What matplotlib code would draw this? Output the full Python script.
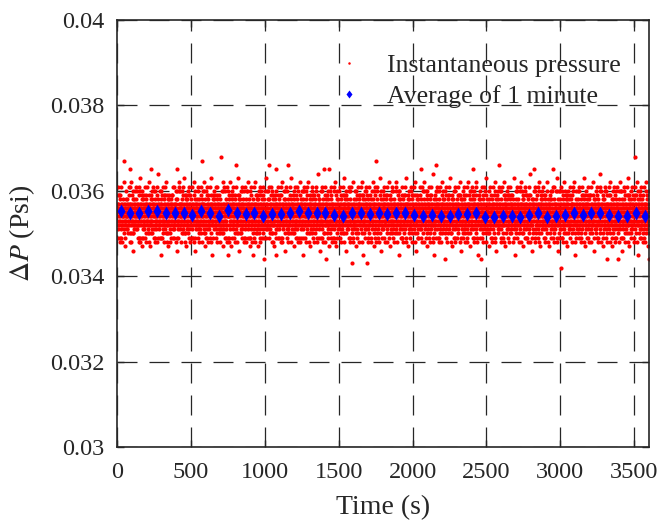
import numpy as np
import matplotlib
matplotlib.use("Agg")
import matplotlib.pyplot as plt

plt.rcParams["font.family"] = ["Liberation Serif", "DejaVu Serif"]
plt.rcParams["mathtext.fontset"] = "stix"

# Instantaneous pressure, one string per minute (1 sample/s); each letter is a
# pressure level: LEVEL_BASE + index_in_LEVEL_KEYS * LEVEL_STEP (Psi)
LEVEL_KEYS = "abcdefghijklmnopqrstuvwxyz+"
LEVEL_BASE = 0.0342
LEVEL_STEP = 0.0001

pressure_minutes = [
    "nmlokptjrh pnomlkrhgq rnmlopkjth nnmolkpgqm knmoljziup nopmlkhfqs",
    "mnolknpmjq jmnolkpitr kolmnpgtxi pnlmokguir lmnpoqkesi ilmnokpqjs",
    "olnmpkjqmn tlnmokjpsh onlmkpgrth nkolmpvghs pnomlkrhfq snmlopkjqh",
    "knmoljrhtp mkolnpqgir lnomktpjin omnlkgpuri fmnolkpiqr kxlmnpjqsi",
    "lmnpotkjsh nopmlkmgqs hmnoljkptr gnlmokpnqh wlnmokjpsh onlmkpdsqh",
    "pnomlkrhjt ilmnokpqgr mlkontpjri umnolkpgir mkolnpqfir lnomkqpjin",
    "gmnolkphqr rnmlopkjth nnmolkpjth lmonkpqgms nopxlkheqs hmnoljkpus",
    "tlnmokjpsm kolmnpgqsi pnlmokjtir nmlokpvgri ilmnokpqfr mlkonqpjsi",
    "mkolnptjhr onlmkpgrqh nkolmptjhn mnolknphgu rnmlopkeqh snmolkpjqm",
    "nopmlkhjts lnomkqpgin omnlkjptri olzmpkgqms kolmnpjusi pnlmokfqis",
    "hlmnokptjr hmnolgkpqr jnlmokpnth knmolgrivp onlmkpdrqh nkolmpqjms",
    "rnmlopkjth mlkonqpgri tmnolkpjir lmnpoqkgni lnomk+pjis omnlkfpusi",
    "kolmnpjtsh nnmolkpjqh lmonkptghs pnomdkrmgq hmnoljkpur fnlmokpsqh",
    "onlmkpjrth pnlmokgqir nmlokptjyi gmnolkpivr mlkonqperi qmnolkpjis",
    "lnomktpjhs nkolmpqghs mnolknphjt qlnmokgpsm snmolkpjuh lmonkpqfhs",
    "hmnoljkptr omnlkgpqdi olnmpkjthn mkolnpugir pnlmokjqir nmlokpqfsi",
    "mlkontpjrh gnlmokpsqh knmoljritp nopmlkhcqs nkolmpvjhn mnolkspmjq",
    "snmolkyjqh tmnolkpjir lmnpotkgsi ilmnokpqgr omnlkfpqri olnmpdjxhs",
    "pnlmokjthr lmonkpqjhn pnomlkrhgt rnmlopkguh jnlmokpsqm knmolesiqp",
    "nkolmptjhs nmlokpqjyi gmnolkpitr kolmnpgqni vmnolkpjir lmnpoqkfsi",
    "omnlkjptrh mnolknphjq tlnmokgpsh onlmkpgrum lmonkpqjhs pnomlkshdq",
    "jnlmokpsth olnmpkgqms mkolnptjir lnomkupgin nmlokpqfri jmnolkpiqs",
    "tmnolkpjhr knmolgriqp nopmlkmjts hmnolgkpwr mnolknphjq qlnmokepsh",
    "lmonkptjhs lmnpoqkgni ilmnxkptgr mlkonqpcri olnmpkjqhs mkolnpxfis",
    "nmlokptjrh qlnmokgpnh olnmpkjtms hmnolgkpur fnlmokpsqh ilmnokpqjs",
    "mnolknphjt mkolnpqgir knmoljritp mlkonvpgri qmnolkpeir snmlopkjqm",
    "olnmpkjths nopmlkhgqs lmnpotkjbi nnmolkpguh lmonkpqjms kolmnpfqsi",
    "knmoljrhtp ilmnokpqgr pnomlkrmjt pnlmokguir nmlokpqdri onlmkpjsqh",
    "lmnpotkjsb rnmlopkgqh jmnolkpitr nkolmpqghn mnolkspmju lnomkqpfis",
    "pnomlkrhjt kozmnpgqsi tlnmokjpnh omnlkgpvri olnmpkeqms hmnoljkpqs",
    "jmnolkphtr onlmkpgrqm mkolnptjir gnlmokpnuh knmolfriqp mlkonqpjsi",
    "tlnmokjpsh lnomkqpgin nopmlkmjts umnolkpgir lmnpoqkdsi snmolkpjqh",
    "mkolnptjhr hmnolgkpqr ilmnokptjr lmonkpvghn pnomlkrmfq pnlmokjqis",
    "nopmlkhjts mlkonqpgri rnmlopkjtm nmlokpugri emnolkpiqr nkolmpqjhn",
    "hlmnokptjr nnmolxpjqh kolmnpgtsi mnolkspmgq ulnmokjpsh omnlkfpqsi",
    "rnmlopkjth pnlmokgqir onlmkpjrtm olnmpkgwhn mkolnpqdir jnlmokpsqh",
    "yolmnpjtsh nkolmpqghs lnomktpjin knmolgriup nopmlkmjqs qmnolkpcis",
    "onlmkpjrth omnlkgpqri mmnoljkptr lmnpovkgni ilmnokpqfr lmonkpqjhs",
    "lnomktpjhs gnlmokpnqh mlkontpjri pnomlkrmgu rnmlopkeqh nmlokpqjsi",
    "hmnoljkptr qmnolkpgir nnmolkpjth gmnolkpiur kolmnpfqsi mnolkspmjq",
    "mlkontpjrh xmonkpqghs pnlmokjtir ulnmokgpnh onlmkpdrqm olnmpkjqhs",
    "cnmolkpjth nmlokpqgri nkolmptjms mkolnpvgir lnomkqpjin knmolfsiqp",
    "pnlmokjthr mnolknphgq omnlkjptri nopmlkmgus hmnolekpqr lmnpoqkjsi",
    "nkolmptjys olnmpkgqhs jnlmokpnth ilmnokpugr mlkonqpfri pnomlksmjq",
    "omnlkjptrh knmolgriqp tmnolkpjir rnmlopkgqm nnmolkpjvh dmnolkpiqs",
    "jnlmokpsth lmnpoqkgni lmonkptjms kolmnpgusi pnlmokfqir qlnmokjpsh",
    "tmnolkpjhr pnomlkrhgq nmlokptjri onlmkpgrwm nkolmpqehn mkolnpqjis",
    "lmonxptjhs gmnolkpiqr mnolknphjt lnomkupgis omnlkfpqri nopmlkmjqs",
    "nmlokptjrh onlmkpgrqh jmnolkpius mnolknpmgq pnlmokfqir nopmlkhjqs",
    "mnolksphjt lnxmkqpgin tlnmokjpsm olnmpkgvhs nkolmpqehs ilmnokpqjs",
    "olnmpajths hmnolgkpqr mkolnpujis knmolgriqp omnlkfpqri snmlopkjqm",
    "knmoljrhtp mlkonqpgri nopmlkmjts lmnpoukgni dnlmokpsqh kolmnpjqsi",
    "lmnpotkjsh nnmolkpgqh ilmnokptjr pnomlkrmgv qmnolkpfir onlmkpjsqh",
    "pnomlkrhjt pnlmokgqir rnmlopkjtm gmnolkpiur lmonkpqehn lnomkqpjis",
    "jmnolkphtr nkolmpqghn kolmnpjtsi wlnmokgpsm nmlokpqfri hmnoljkpqs",
    "tlnmokjpsh omnlkgpcri onlmkpjrtm mkolnpugir mnolknphfq mlkonqpjsi",
    "mkolnptjhr gnlmokpsqh lnomktpjin ncpmlkmgqs olnmpkjuhs snmolkpeqh",
    "nopmlkhjts qmnolkpgir mmnoljkptr ilmnokpvgr knmolfriqp pnlmokjqis",
    "hlmnokptjr lmonkpqghn mlk+ntpjri rnmlopkgum lmnpoqkdsi nkolmpqjhs",
    "rnmlopkjth nmlokpqgri nnmolkpjth kolmnpgusi pnomlkrmjq omnlkfpcsi",
]

# One-minute averages (Psi), centred in each minute
average_time_s = np.arange(30, 3600, 60)
average_pressure = [
    0.03553, 0.03548, 0.03548, 0.03552, 0.03553, 0.03549, 0.03548, 0.03548,
    0.03544, 0.03553, 0.03549, 0.03542, 0.03555, 0.03549, 0.03545, 0.03548,
    0.03542, 0.03546, 0.03545, 0.03548, 0.03552, 0.03549, 0.03548, 0.03548,
    0.03544, 0.03542, 0.03548, 0.03549, 0.03545, 0.03548, 0.03545, 0.03549,
    0.03548, 0.03544, 0.03542, 0.03544, 0.03542, 0.03542, 0.03545, 0.03545,
    0.03548, 0.03539, 0.03538, 0.03542, 0.03542, 0.03538, 0.03544, 0.03548,
    0.03539, 0.03542, 0.03544, 0.03547, 0.03544, 0.03547, 0.03548, 0.03544,
    0.03542, 0.03542, 0.03549, 0.03542,
]

x_ticks = [0, 500, 1000, 1500, 2000, 2500, 3000, 3500]
y_ticks = [0.030, 0.032, 0.034, 0.036, 0.038, 0.040]
y_tick_labels = ["0.03", "0.032", "0.034", "0.036", "0.038", "0.04"]

# decode instantaneous series
inst_t, inst_p = [], []
for k, s in enumerate(pressure_minutes):
    codes = s.replace(" ", "")
    n = len(codes)
    for j, c in enumerate(codes):
        inst_t.append(60 * k + j * 60.0 / n)
        inst_p.append(LEVEL_BASE + LEVEL_KEYS.index(c) * LEVEL_STEP)

fig = plt.figure(figsize=(6.62, 5.22), dpi=100)
ax = fig.add_axes([117 / 662, 75 / 522, 532 / 662, 427 / 522])

ax.plot(inst_t, inst_p, linestyle="none", marker="o", ms=3.0,
        mfc="#ff0000", mec="none", label="Instantaneous pressure")
ax.plot(average_time_s, average_pressure, linestyle="none", marker="d", ms=7.5,
        mfc="#0000ff", mec="none", label="Average of 1 minute")

ax.set_xlim(0, 3600)
ax.set_ylim(0.03, 0.04)
ax.set_xticks(x_ticks)
ax.set_yticks(y_ticks)
ax.set_yticklabels(y_tick_labels)

ax.set_axisbelow(True)
ax.grid(True, color="#262626", lw=0.9, linestyle=(0, (16, 9.6)))

for sp in ax.spines.values():
    sp.set_linewidth(1.2)
    sp.set_color("#262626")
ax.tick_params(direction="in", top=True, right=True, length=5, width=1,
               color="#262626", labelsize=17.5, labelcolor="#262626")
ax.tick_params(axis="x", pad=11)
ax.tick_params(axis="y", pad=9)

ax.set_xlabel("Time (s)", fontsize=20, color="#262626")
ax.set_ylabel(r"$\Delta P$ (Psi)", fontsize=20, color="#262626")
ax.yaxis.set_label_coords(-0.150, 0.5)
ax.xaxis.set_label_coords(0.5, -0.112)

leg = ax.legend(loc="upper left", bbox_to_anchor=(0.397, 0.920), frameon=False,
                fontsize=18.5, borderpad=0, borderaxespad=0, handlelength=1.6,
                handletextpad=0.68, labelspacing=0.3, markerscale=0.6)
for txt in leg.get_texts():
    txt.set_color("#262626")

fig.savefig("out.png", dpi=100)
